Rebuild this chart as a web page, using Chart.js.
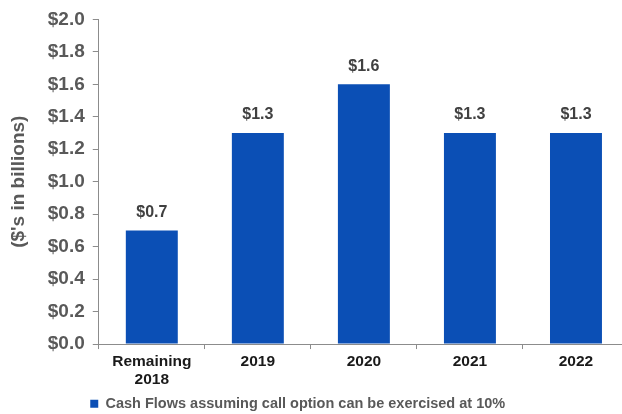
<!DOCTYPE html>
<html>
<head>
<meta charset="utf-8">
<script src="https://cdn.jsdelivr.net/npm/chart.js@4.4.1/dist/chart.umd.min.js"></script>
<style>
  html, body { margin: 0; padding: 0; background: #fff; overflow: hidden; }
  #wrap { width: 640px; height: 414px; position: relative; }
</style>
</head>
<body>
<div id="wrap"><canvas id="c"></canvas></div>
<script>
// Projected cash flows by period ($ billions)
const categories = [["Remaining", "2018"], "2019", "2020", "2021", "2022"];
const cashFlows = [0.7, 1.3, 1.6, 1.3, 1.3];
const seriesName = "Cash Flows assuming call option can be exercised at 10%";
const yTicks = { min: 0, max: 2.0, step: 0.2 };

const BAR_BLUE = "#0b4fb5";
const AXIS_GREY = "#8c8c8c";
const FONT = "'Liberation Sans', Arial, sans-serif";

// Value labels above each bar
const barValueLabels = {
  id: "barValueLabels",
  afterDatasetsDraw(chart) {
    const ctx = chart.ctx;
    const meta = chart.getDatasetMeta(0);
    ctx.save();
    ctx.font = "bold 16px " + FONT;
    ctx.fillStyle = "#404040";
    ctx.textAlign = "center";
    ctx.textBaseline = "bottom";
    meta.data.forEach((bar, i) => {
      ctx.fillText("$" + cashFlows[i].toFixed(1), bar.x, bar.y - 10);
    });
    ctx.restore();
  }
};

// Line the legend up under the plot's left edge
const legendOffset = {
  id: "legendOffset",
  afterLayout(chart) {
    const lg = chart.legend;
    const w = lg.right - lg.left;
    lg.left = 86;
    lg.right = lg.left + w;
  }
};

new Chart(document.getElementById("c"), {
  type: "bar",
  data: {
    labels: categories,
    datasets: [{
      label: seriesName,
      data: cashFlows,
      backgroundColor: BAR_BLUE,
      borderWidth: 0,
      barPercentage: 0.49,
      categoryPercentage: 1.0
    }]
  },
  options: {
    responsive: true,
    maintainAspectRatio: false,
    animation: false,
    layout: { padding: { top: 8, left: 7, right: 11, bottom: -7 } },
    plugins: {
      legend: {
        position: "bottom",
        align: "start",
        labels: {
          boxWidth: 8,
          boxHeight: 8,
          padding: 4.25,
          color: "#595959",
          font: { family: FONT, size: 14.5, weight: "bold" }
        }
      },
      tooltip: { enabled: false }
    },
    scales: {
      x: {
        offset: true,
        grid: {
          offset: true,
          drawOnChartArea: false,
          drawTicks: true,
          tickLength: 5,
          color: AXIS_GREY
        },
        border: { display: true, color: AXIS_GREY, width: 1 },
        ticks: {
          color: "#1a1a1a",
          padding: 3,
          maxRotation: 0,
          font: { family: FONT, size: 15.5, weight: "bold" }
        }
      },
      y: {
        min: yTicks.min,
        max: yTicks.max,
        grid: {
          drawOnChartArea: false,
          drawTicks: true,
          tickLength: 6,
          color: AXIS_GREY
        },
        border: { display: true, color: AXIS_GREY, width: 1 },
        ticks: {
          stepSize: yTicks.step,
          color: "#595959",
          padding: 8,
          font: { family: FONT, size: 19, weight: "bold" },
          callback: (v) => "$" + Number(v).toFixed(1)
        },
        title: {
          display: true,
          text: "($'s in billions)",
          color: "#595959",
          padding: { top: 0, bottom: 10 },
          font: { family: FONT, size: 19, weight: "bold" }
        }
      }
    }
  },
  plugins: [barValueLabels, legendOffset]
});
</script>
</body>
</html>
